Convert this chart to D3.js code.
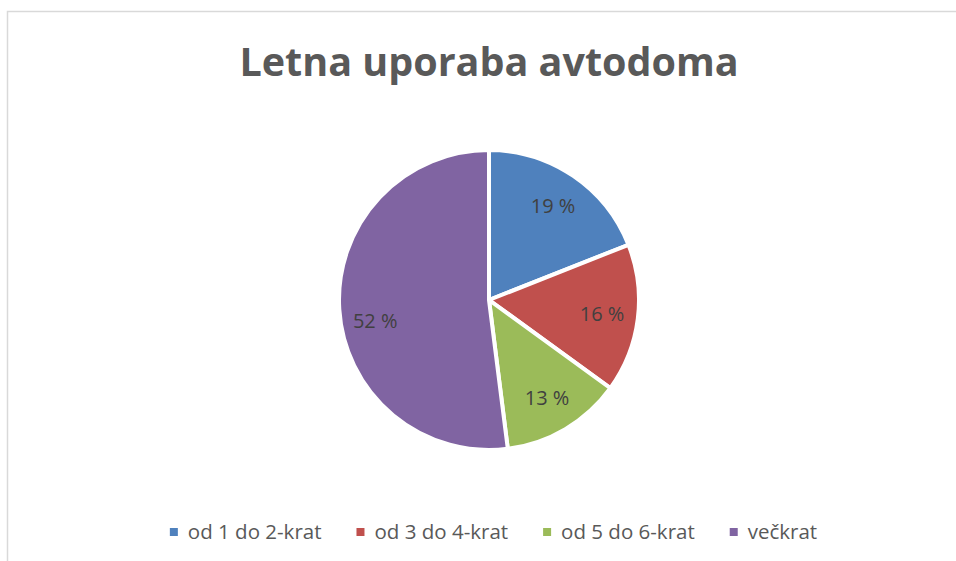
<!DOCTYPE html>
<html>
<head>
<meta charset="utf-8">
<script src="https://cdn.jsdelivr.net/npm/d3@7"></script>
<style>
  body { margin: 0; background: #fff; }
  svg { display: block; font-family: "Open Sans", "Noto Sans", sans-serif; }
</style>
</head>
<body>
<div id="chart"></div>
<script>
// chart data
const title = "Letna uporaba avtodoma";
const categories = ["od 1 do 2-krat", "od 3 do 4-krat", "od 5 do 6-krat", "večkrat"];
const values = [19, 16, 13, 52];
const colors = ["#4F81BD", "#C0504D", "#9BBB59", "#8064A2"];

const width = 956;
const height = 561;
const cx = 489, cy = 300, radius = 150;

const svg = d3.select("#chart")
  .append("svg")
  .attr("width", width)
  .attr("height", height);

// chart area border (only top and left visible in the crop)
svg.append("rect")
  .attr("x", 7.5)
  .attr("y", 11.5)
  .attr("width", width)
  .attr("height", height)
  .attr("fill", "#fff")
  .attr("stroke", "#d9d9d9")
  .attr("stroke-width", 1.5);

// title
svg.append("text")
  .attr("x", cx)
  .attr("y", 76)
  .attr("text-anchor", "middle")
  .attr("fill", "#595959")
  .style("font-size", "39.5px")
  .style("font-weight", "bold")
  .text(title);

const data = categories.map((c, i) => ({ name: c, value: values[i], color: colors[i] }));

const pie = d3.pie().sort(null).value((d) => d.value);
const arc = d3.arc().innerRadius(0).outerRadius(radius);
const labelArc = d3.arc().innerRadius(114).outerRadius(114);
const arcs = pie(data);

const g = svg.append("g").attr("transform", `translate(${cx},${cy})`);

g.selectAll("path")
  .data(arcs)
  .enter()
  .append("path")
  .attr("d", arc)
  .attr("fill", (d) => d.data.color)
  .attr("stroke", "#fff")
  .attr("stroke-width", 4)
  .attr("stroke-linejoin", "miter");

// Excel "best fit" nudges the big slice's label down a little
g.selectAll(".pie-label")
  .data(arcs)
  .enter()
  .append("text")
  .attr("class", "pie-label")
  .attr("transform", (d) => {
    const [x, y] = labelArc.centroid(d);
    return `translate(${x},${d.value > 50 ? y + 14 : y})`;
  })
  .attr("dy", "0.35em")
  .attr("text-anchor", "middle")
  .attr("fill", "#404040")
  .style("font-size", "20px")
  .text((d) => d.data.value + " %");

// legend, laid out from measured text widths and centred
const legend = svg.append("g");
const items = legend.selectAll("g")
  .data(data)
  .enter()
  .append("g");

items.append("rect")
  .attr("width", 8)
  .attr("height", 8)
  .attr("y", -4)
  .attr("fill", (d) => d.color);

items.append("text")
  .attr("x", 18)
  .attr("dy", "0.35em")
  .attr("fill", "#595959")
  .style("font-size", "20.5px")
  .text((d) => d.name);

const gap = 35;
let xPos = 0;
items.each(function () {
  const w = d3.select(this).select("text").node().getComputedTextLength();
  d3.select(this).attr("transform", `translate(${xPos},0)`);
  xPos += 18 + w + gap;
});
const legendWidth = xPos - gap;
legend.attr("transform", `translate(${493.5 - legendWidth / 2},532)`);
</script>
</body>
</html>
